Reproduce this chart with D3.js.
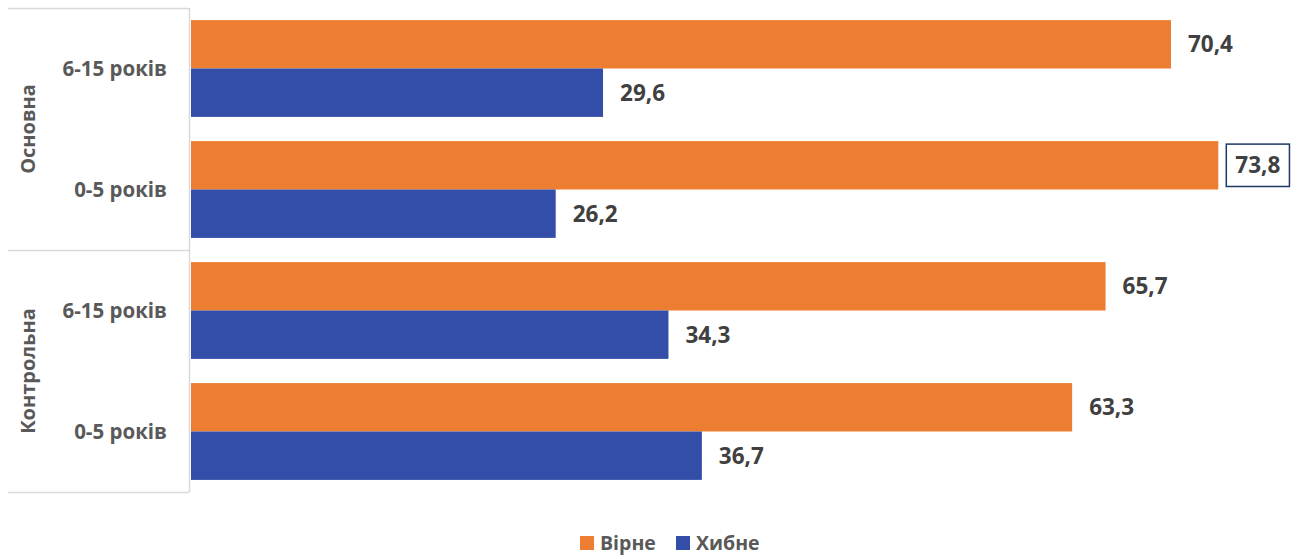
<!DOCTYPE html>
<html>
<head>
<meta charset="utf-8">
<script src="https://cdn.jsdelivr.net/npm/d3@7"></script>
<style>
  body { margin: 0; background: #fff; }
  text { font-family: "Open Sans", "Noto Sans", sans-serif; font-weight: bold; }
</style>
</head>
<body>
<div id="chart"></div>
<script>
// data
const groups = ["Основна", "Контрольна"];
const ages = ["6-15 років", "0-5 років"];
const series = ["Вірне", "Хибне"];
const correctValues = [70.4, 73.8, 65.7, 63.3];
const wrongValues = [29.6, 26.2, 34.3, 36.7];
const highlighted = 1; // index of the boxed label

const width = 1297, height = 556;
const colors = { "Вірне": "#ED7D31", "Хибне": "#334EA8" };

const rows = [];
groups.forEach((g, gi) => {
  ages.forEach((a, ai) => {
    const i = gi * ages.length + ai;
    rows.push({ key: g + "|" + a, group: g, age: a, "Вірне": correctValues[i], "Хибне": wrongValues[i], idx: i });
  });
});

const svg = d3.select("#chart").append("svg")
  .attr("width", width).attr("height", height);

const axisX = 189, plotTop = 8, plotBottom = 492;

const x = d3.scaleLinear().domain([0, 80]).range([axisX + 2, axisX + 2 + 80 * 13.92]);
const y0 = d3.scaleBand().domain(rows.map(d => d.key)).range([plotTop, plotBottom])
  .paddingInner(0.2).paddingOuter(0.1);
const y1 = d3.scaleBand().domain(series).range([0, y0.bandwidth()]);

// group separators
const groupScale = d3.scaleBand().domain(groups).range([plotTop, plotBottom]);
const sepYs = [plotTop].concat(groups.map(g => groupScale(g) + groupScale.bandwidth()));
svg.selectAll(".sep").data(sepYs).enter().append("line")
  .attr("x1", 8).attr("x2", axisX)
  .attr("y1", d => d + 0.5).attr("y2", d => d + 0.5)
  .attr("stroke", "#d9d9d9").attr("stroke-width", 1.5);

svg.append("line")
  .attr("x1", axisX + 0.5).attr("x2", axisX + 0.5)
  .attr("y1", plotTop).attr("y2", plotBottom)
  .attr("stroke", "#d9d9d9").attr("stroke-width", 1.5);

// bars
const rowG = svg.selectAll(".row").data(rows).enter().append("g")
  .attr("transform", d => `translate(0,${y0(d.key)})`);

rowG.selectAll("rect").data(d => series.map(s => ({ s, v: d[s], idx: d.idx })))
  .enter().append("rect")
  .attr("x", x(0))
  .attr("y", d => y1(d.s))
  .attr("width", d => x(d.v) - x(0))
  .attr("height", y1.bandwidth())
  .attr("fill", d => colors[d.s]);

const fmt = v => d3.format(".1f")(v).replace(".", ",");

rowG.selectAll(".val").data(d => series.map(s => ({ s, v: d[s], idx: d.idx })))
  .enter().append("text")
  .attr("class", "val")
  .attr("x", d => x(d.v) + 17)
  .attr("y", d => y1(d.s) + y1.bandwidth() / 2)
  .attr("dy", "0.36em")
  .attr("font-size", 22.5)
  .attr("fill", "#404040")
  .text(d => fmt(d.v));

// box around the highlighted label
rowG.filter(d => d.idx === highlighted).each(function (d) {
  const g = d3.select(this);
  const t = g.selectAll(".val").filter(e => e.s === "Вірне").node();
  const bb = t.getBBox();
  g.insert("rect", ".val")
    .attr("x", bb.x - 9).attr("y", y1("Вірне") + 3)
    .attr("width", bb.width + 18).attr("height", y1.bandwidth() - 6)
    .attr("fill", "#fff").attr("stroke", "#1F3864").attr("stroke-width", 1.5);
});

// age labels
svg.selectAll(".age").data(rows).enter().append("text")
  .attr("x", 167)
  .attr("y", d => y0(d.key) + y0.bandwidth() / 2)
  .attr("dy", "0.36em")
  .attr("text-anchor", "end")
  .attr("font-size", 20.5)
  .attr("fill", "#595959")
  .text(d => d.age);

// group labels
svg.selectAll(".grp").data(groups).enter().append("text")
  .attr("transform", d => `translate(28,${groupScale(d) + groupScale.bandwidth() / 2}) rotate(-90)`)
  .attr("dy", "0.36em")
  .attr("text-anchor", "middle")
  .attr("font-size", 20)
  .attr("fill", "#595959")
  .text(d => d);

// legend
const legend = svg.append("g").attr("transform", "translate(580,543)");
const legX = [0, 96];
series.forEach((s, i) => {
  const lg = legend.append("g").attr("transform", `translate(${legX[i]},0)`);
  lg.append("rect").attr("x", 0).attr("y", -7).attr("width", 14).attr("height", 14).attr("fill", colors[s]);
  lg.append("text").attr("x", 20).attr("dy", "0.36em")
    .attr("font-size", 19.5).attr("fill", "#595959").text(s);
});
</script>
</body>
</html>
